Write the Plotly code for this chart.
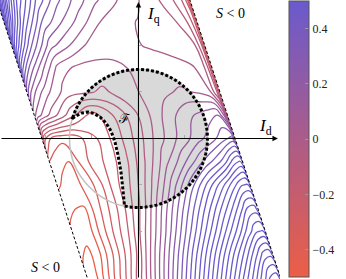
import numpy as np
import plotly.graph_objects as go

# ---------------- data ----------------
color_min, color_max = -0.5, 0.5
level_start, level_end, level_step = -1.0, 2.0, 0.05
colorbar_ticks = [-0.4, -0.2, 0.0, 0.2, 0.4]

# S >= 0 band:  |I_d + band_slope * I_q| <= band_half_width
band_slope = 0.326
band_half_width = 1.039

# across-band coordinate s (-1 .. 1) and I_q rows (top to bottom)
s_nodes = [-1.0, -0.97, -0.9, -0.8, -0.6, -0.4, -0.2, 0.0, 0.2, 0.4, 0.6, 0.8, 0.9, 0.97, 1.0]
iq_rows = [1.75, 1.5, 1.25, 1.0, 0.75, 0.5, 0.25, 0.0, -0.25, -0.5, -0.75, -1.0, -1.25, -1.5, -1.75]

f_row_p175 = [1.5, 1.2, 0.91, 0.68, 0.46, 0.32, 0.22, 0.14, 0.08, 0.028, -0.02, -0.102, -0.152, -0.24, -0.44]
f_row_p150 = [1.3, 1.05, 0.81, 0.61, 0.405, 0.274, 0.19, 0.116, 0.062, 0.016, -0.026, -0.09, -0.136, -0.22, -0.41]
f_row_p125 = [1.05, 0.88, 0.68, 0.502, 0.29, 0.198, 0.12, 0.048, 0.016, -0.004, -0.026, -0.052, -0.102, -0.18, -0.31]
f_row_p100 = [0.8, 0.65, 0.502, 0.36, 0.17, 0.1, 0.036, 0.016, 0.006, -0.002, -0.012, -0.03, -0.048, -0.152, -0.31]
f_row_p075 = [0.552, 0.42, 0.3, 0.2, 0.03, -0.016, -0.02, -0.01, 0.006, 0.016, 0.016, 0.006, -0.02, -0.12, -0.28]
f_row_p050 = [0.302, 0.22, 0.14, 0.07, -0.02, -0.04, -0.06, -0.024, 0.006, 0.036, 0.06, 0.04, 0.002, -0.102, -0.24]
f_row_p025 = [0.12, 0.08, 0.03, -0.03, -0.14, -0.224, -0.156, -0.08, 0.002, 0.08, 0.14, 0.18, 0.204, 0.08, -0.16]
f_row_0 = [-0.12, -0.24, -0.31, -0.336, -0.31, -0.24, -0.164, -0.074, 0.024, 0.102, 0.174, 0.248, 0.29, 0.32, 0.204]
f_row_m025 = [-0.352, -0.37, -0.39, -0.402, -0.302, -0.236, -0.158, -0.044, 0.082, 0.192, 0.308, 0.42, 0.52, 0.56, 0.49]
f_row_m050 = [-0.394, -0.398, -0.412, -0.42, -0.342, -0.22, -0.13, 0.014, 0.174, 0.336, 0.496, 0.66, 0.74, 0.76, 0.69]
f_row_m075 = [-0.424, -0.434, -0.448, -0.456, -0.332, -0.218, -0.086, 0.096, 0.274, 0.454, 0.632, 0.812, 0.91, 0.92, 0.86]
f_row_m100 = [-0.46, -0.47, -0.48, -0.456, -0.314, -0.188, -0.014, 0.178, 0.372, 0.566, 0.76, 0.954, 1.04, 1.06, 0.99]
f_row_m125 = [-0.49, -0.498, -0.512, -0.464, -0.308, -0.142, 0.072, 0.278, 0.488, 0.698, 0.906, 1.116, 1.22, 1.24, 1.18]
f_row_m150 = [-0.512, -0.524, -0.506, -0.426, -0.252, -0.064, 0.156, 0.374, 0.594, 0.814, 1.032, 1.252, 1.36, 1.38, 1.32]
f_row_m175 = [-0.53, -0.54, -0.524, -0.41, -0.202, 0.002, 0.23, 0.47, 0.702, 0.93, 1.16, 1.38, 1.49, 1.52, 1.46]

# feasible set F: current-limit circle + left indentation (bottom -> top)
I_max = 0.742
F_arc_start_deg, F_arc_end_deg = 162.6, -101.7
F_indent_Id = [-0.1505, -0.1667, -0.1882, -0.2204, -0.2527, -0.2957, -0.3495, -0.4140, -0.4785, -0.5430, -0.6075, -0.6613, -0.7043]
F_indent_Iq = [-0.7258, -0.5538, -0.3602, -0.1774, -0.0376, 0.0806, 0.1667, 0.2312, 0.2688, 0.2849, 0.2742, 0.2473, 0.2204]

axis_ticks = [-1.0, -0.5, 0.5, 1.0]
x_range = [-1.489, 1.522]
y_range = [-1.511, 1.489]

RED = "#ec5e46"
BLUE = "#6a5acd"
FONT = "Liberation Serif"

# ---------------- build ----------------
rows_top_to_bottom = [f_row_p175, f_row_p150, f_row_p125, f_row_p100, f_row_p075, f_row_p050,
                      f_row_p025, f_row_0, f_row_m025, f_row_m050, f_row_m075, f_row_m100,
                      f_row_m125, f_row_m150, f_row_m175]
b_vals = iq_rows[::-1]
z = [r for r in rows_top_to_bottom[::-1]]
S, B = np.meshgrid(np.array(s_nodes), np.array(b_vals))
X = S * band_half_width - band_slope * B
Y = B

span = level_end - level_start
frac_lo = (color_min - level_start) / span
frac_hi = (color_max - level_start) / span
line_scale = [[0.0, RED], [frac_lo, RED], [frac_hi, BLUE], [1.0, BLUE]]

fig = go.Figure()

axis_off = dict(showgrid=False, showline=False, showticklabels="none", startline=False,
                endline=False, minorgridcount=0, gridcolor="rgba(0,0,0,0)",
                linecolor="rgba(0,0,0,0)", title=dict(text=""))
fig.add_trace(go.Carpet(carpet="band", a=s_nodes, b=b_vals, x=X.tolist(), y=Y.tolist(),
                        aaxis=axis_off, baxis=axis_off))
fig.add_trace(go.Contourcarpet(carpet="band", a=s_nodes, b=b_vals, z=z, autocontour=False,
                               contours=dict(start=level_start, end=level_end, size=level_step,
                                             coloring="lines"),
                               colorscale=line_scale, zauto=False, zmin=level_start, zmax=level_end,
                               showscale=False,
                               line=dict(width=1.3, smoothing=1.2)))

# colour bar (continuous gradient)
fig.add_trace(go.Scatter(x=[0, 0], y=[0, 0], mode="markers", hoverinfo="skip",
                         marker=dict(size=1, opacity=0, color=[color_min, color_max],
                                     colorscale=[[0, RED], [1, BLUE]], cmin=color_min, cmax=color_max,
                                     showscale=True,
                                     colorbar=dict(x=1.032, xanchor="left", xpad=0, ypad=0,
                                                   y=0.996, yanchor="top", lenmode="pixels", len=276,
                                                   thicknessmode="pixels", thickness=20,
                                                   outlinewidth=1, outlinecolor="#555",
                                                   tickvals=colorbar_ticks, ticks="inside", ticklen=4,
                                                   tickcolor="#999",
                                                   tickfont=dict(family=FONT, size=12, color="#222"))),
                         showlegend=False))

# feasible region path
arc = np.radians(np.linspace(F_arc_start_deg, F_arc_end_deg, 90))
px = list(I_max * np.cos(arc)) + F_indent_Id
py = list(I_max * np.sin(arc)) + F_indent_Iq
F_path = "M " + " L ".join(f"{a:.4f},{b:.4f}" for a, b in zip(px, py)) + " Z"

shapes = []
shapes.append(dict(type="path", path=F_path, xref="x", yref="y", fillcolor="#d9d9d9",
                   line=dict(width=0), layer="below"))
shapes.append(dict(type="circle", xref="x", yref="y", x0=-I_max, y0=-I_max, x1=I_max, y1=I_max,
                   line=dict(color="#c2c2c2", width=1.5), layer="above"))
shapes.append(dict(type="path", path=F_path, xref="x", yref="y", fillcolor="rgba(0,0,0,0)",
                   line=dict(color="black", width=3, dash="3px,2px"), layer="above"))
for sign in (-1, 1):
    iq0, iq1 = -1.8, 1.8
    shapes.append(dict(type="line", xref="x", yref="y",
                       x0=sign * band_half_width - band_slope * iq0, y0=iq0,
                       x1=sign * band_half_width - band_slope * iq1, y1=iq1,
                       line=dict(color="black", width=1, dash="3px,2px"), layer="above"))

annotations = [
    dict(x=1.5, y=0, ax=x_range[0], ay=0, xref="x", yref="y", axref="x", ayref="y", text="",
         showarrow=True, arrowhead=2, arrowsize=1, arrowwidth=1.1, arrowcolor="black", standoff=0),
    dict(x=0, y=1.468, ax=0, ay=y_range[0], xref="x", yref="y", axref="x", ayref="y", text="",
         showarrow=True, arrowhead=2, arrowsize=1, arrowwidth=1.1, arrowcolor="black", standoff=0),
    dict(x=1.371, y=0.124, xref="x", yref="y", text="<i>I</i><sub>d</sub>", showarrow=False,
         font=dict(family=FONT, size=17, color="black")),
    dict(x=0.165, y=1.33, xref="x", yref="y", text="<i>I</i><sub>q</sub>", showarrow=False,
         font=dict(family=FONT, size=17, color="black")),
    dict(x=0.995, y=1.339, xref="x", yref="y", text="<i>S</i> &lt; 0", showarrow=False,
         font=dict(family=FONT, size=14, color="black")),
    dict(x=-0.995, y=-1.382, xref="x", yref="y", text="<i>S</i> &lt; 0", showarrow=False,
         font=dict(family=FONT, size=14, color="black")),
    dict(x=-0.15, y=0.215, xref="x", yref="y", text="ℱ", showarrow=False,
         font=dict(family="DejaVu Serif", size=13, color="black")),
]

fig.update_layout(
    width=346, height=279, margin=dict(l=0, r=66, t=0, b=0),
    paper_bgcolor="white", plot_bgcolor="white", showlegend=False,
    shapes=shapes, annotations=annotations,
    xaxis=dict(range=x_range, showgrid=False, zeroline=False, showline=False,
               anchor="free", position=(0 - y_range[0]) / (y_range[1] - y_range[0]),
               tickvals=axis_ticks, ticks="inside", ticklen=3, tickcolor="#aaa",
               showticklabels=False),
    yaxis=dict(range=y_range, showgrid=False, zeroline=False, showline=False,
               anchor="free", position=(0 - x_range[0]) / (x_range[1] - x_range[0]),
               tickvals=axis_ticks, ticks="inside", ticklen=3, tickcolor="#aaa",
               showticklabels=False),
)

fig.write_html("out.html", config={"displayModeBar": False},
               post_script="document.body.style.margin='0';document.body.style.padding='0';")
